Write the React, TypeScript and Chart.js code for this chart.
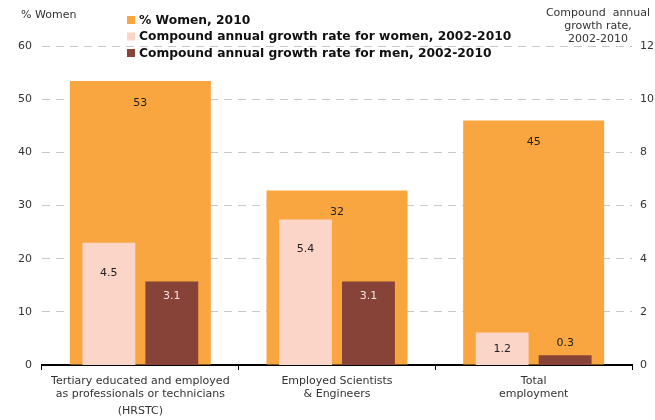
import React, { useEffect, useRef } from 'react';
import { Chart, registerables } from 'chart.js';

Chart.register(...registerables);

const categories: string[][] = [
  ['Tertiary educated and employed', 'as professionals or technicians', '(HRSTC)'],
  ['Employed Scientists', '& Engineers'],
  ['Total', 'employment'],
];
const seriesNames = [
  '% Women, 2010',
  'Compound annual growth rate for women, 2002-2010',
  'Compound annual growth rate for men, 2002-2010',
];
const womenShare = [53.4, 32.8, 46.0];
const womenShareLabels = ['53', '32', '45'];
const growthWomen = [4.6, 5.47, 1.22];
const growthWomenLabels = ['4.5', '5.4', '1.2'];
const growthMen = [3.14, 3.14, 0.37];
const growthMenLabels = ['3.1', '3.1', '0.3'];
const leftTitle = '% Women';
const rightTitle = ['Compound  annual', 'growth rate,', '2002-2010'];

const COLORS = ['#F9A640', '#FBD5C8', '#874337'];
const FAMILY = "'DejaVu Sans', Verdana, sans-serif";
const TEXT = '#333333';

const overlayPlugin = {
  id: 'overlay',
  afterDatasetsDraw(chart: any) {
    const ctx = chart.ctx;
    const labelSets = [womenShareLabels, growthWomenLabels, growthMenLabels];
    ctx.save();
    ctx.font = `11px ${FAMILY}`;
    ctx.textAlign = 'center';
    ctx.textBaseline = 'middle';
    chart.data.datasets.forEach((ds: any, di: number) => {
      const meta = chart.getDatasetMeta(di);
      meta.data.forEach((bar: any, i: number) => {
        const top = bar.y;
        const h = bar.base - bar.y;
        let y: number;
        let color = '#222';
        if (di === 0) {
          y = top + 22;
        } else if (di === 1) {
          y = top + Math.min(30, h / 2);
        } else {
          if (h > 30) {
            y = top + 15;
            color = '#f2e6e2';
          } else {
            y = top - 12;
          }
        }
        ctx.fillStyle = color;
        ctx.fillText(labelSets[di][i], bar.x, y);
      });
    });
    ctx.restore();
  },
  afterDraw(chart: any) {
    const ctx = chart.ctx;
    const area = chart.chartArea;
    const xScale = chart.scales.x;
    ctx.save();
    ctx.font = `11px ${FAMILY}`;
    ctx.fillStyle = TEXT;
    ctx.textBaseline = 'middle';
    // category labels
    ctx.textAlign = 'center';
    const lineYs = [area.bottom + 16, area.bottom + 29, area.bottom + 46];
    categories.forEach((lines, i) => {
      const x = xScale.getPixelForTick(i);
      lines.forEach((line, j) => ctx.fillText(line, x, lineYs[j]));
    });
    // axis titles
    ctx.textAlign = 'left';
    ctx.fillText(leftTitle, 21, 15);
    ctx.textAlign = 'center';
    rightTitle.forEach((line, i) => {
      ctx.fillText(line, 598, 13 + i * 13);
    });
    // legend
    ctx.font = `bold 12.3px ${FAMILY}`;
    ctx.textAlign = 'left';
    seriesNames.forEach((name, i) => {
      const y = 20 + i * 16.5;
      ctx.fillStyle = COLORS[i];
      ctx.fillRect(area.left + 85, y - 4, 8, 8);
      ctx.fillStyle = '#111';
      ctx.fillText(name, area.left + 97, y + 0.5);
    });
    ctx.restore();
  },
};

export default function App() {
  const canvasRef = useRef<HTMLCanvasElement | null>(null);

  useEffect(() => {
    document.body.style.margin = '0';
    const canvas = canvasRef.current;
    if (!canvas) return;
    const tickFont = { family: FAMILY, size: 11 };
    const chart = new Chart(canvas, {
      type: 'bar',
      data: {
        labels: categories,
        datasets: [
          {
            label: seriesNames[0],
            data: womenShare,
            backgroundColor: COLORS[0],
            yAxisID: 'y',
            grouped: false,
            categoryPercentage: 0.717,
            barPercentage: 1,
            order: 3,
          } as any,
          {
            label: seriesNames[1],
            data: growthWomen,
            backgroundColor: COLORS[1],
            yAxisID: 'y1',
            categoryPercentage: 0.64,
            barPercentage: 0.84,
            order: 1,
          },
          {
            label: seriesNames[2],
            data: growthMen,
            backgroundColor: COLORS[2],
            yAxisID: 'y1',
            categoryPercentage: 0.64,
            barPercentage: 0.84,
            order: 1,
          },
        ],
      },
      options: {
        responsive: true,
        maintainAspectRatio: false,
        animation: false,
        layout: { padding: { top: 46, left: 0, right: 0, bottom: 0 } },
        plugins: {
          legend: { display: false },
          tooltip: { enabled: false },
          title: { display: false },
        },
        scales: {
          x: {
            offset: true,
            grid: {
              offset: true,
              drawOnChartArea: false,
              drawTicks: true,
              tickLength: 5,
              color: '#000',
              lineWidth: 1,
            },
            border: { color: '#000', width: 2 },
            ticks: {
              font: tickFont,
              color: 'rgba(0,0,0,0)',
              padding: 4,
              maxRotation: 0,
              autoSkip: false,
            },
            afterFit: (s: any) => {
              s.height = 55;
            },
          },
          y: {
            position: 'left',
            min: 0,
            max: 60,
            ticks: { stepSize: 10, padding: 10, font: tickFont, color: TEXT },
            grid: {
              color: (c: any) => (c.tick && c.tick.value === 0 ? 'rgba(0,0,0,0)' : '#c8c8c8'),
              drawTicks: false,
              lineWidth: 1,
            },
            border: { display: false, dash: [8, 6] },
            afterFit: (s: any) => {
              s.width = 42;
            },
          },
          y1: {
            position: 'right',
            min: 0,
            max: 12,
            ticks: { stepSize: 2, padding: 8, font: tickFont, color: TEXT },
            grid: { display: false, drawTicks: false },
            border: { display: false },
            afterFit: (s: any) => {
              s.width = 23;
            },
          },
        },
      } as any,
      plugins: [overlayPlugin],
    });
    return () => chart.destroy();
  }, []);

  return (
    <div style={{ position: 'relative', width: 655, height: 420 }}>
      <canvas ref={canvasRef} />
    </div>
  );
}
